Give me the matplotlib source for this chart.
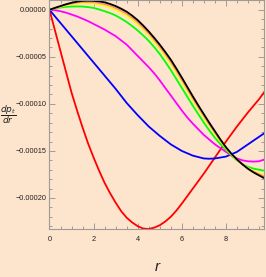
import numpy as np
import matplotlib
matplotlib.use("Agg")
import matplotlib.pyplot as plt
from matplotlib.ticker import MultipleLocator, FuncFormatter

# radius samples
r = [0, 0.25, 0.5, 0.75, 1.0, 1.25, 1.5, 1.75, 2.0, 2.25, 2.5, 2.75,
     3.0, 3.25, 3.5, 3.75, 4.0, 4.25, 4.5, 4.75, 5.0, 5.25, 5.5, 5.75,
     6.0, 6.25, 6.5, 6.75, 7.0, 7.25, 7.5, 7.75, 8.0, 8.25, 8.5, 8.75,
     9.0, 9.25, 9.5, 9.75]

# dp_t/dr values, in units of 1e-6
red = [0, -22, -44, -66, -88, -107, -125, -142, -157, -171, -184, -195,
       -205, -214, -221, -226, -230, -232.5, -233, -231.5, -229, -225, -220, -213.5,
       -206, -198, -190, -182, -174, -165.5, -157, -148.5, -140, -132, -124, -116.5,
       -109, -102, -95, -87]
blue = [0, -7, -14, -21, -28, -35, -42, -49, -56, -63, -70, -77,
        -84, -91.5, -99, -105.5, -112, -118, -124, -129, -134, -138.5, -143, -146.5,
        -150, -152.5, -155, -156.5, -158, -158.3, -158, -157, -156, -153.5, -151, -147,
        -143, -139, -135, -131]
magenta = [0, -0.4, -1.5, -3, -5, -7, -9.5, -12, -15, -18, -21, -24.5,
           -28, -32.5, -37, -43, -49, -55, -61, -67.5, -75, -83, -91, -99,
           -107, -114.5, -121, -127, -133, -138, -143, -147, -151, -155, -158, -160,
           -161, -161.3, -161, -159]
green = [0, 1.4, 2.5, 3.2, 3.5, 3.6, 3.5, 2.9, 2, 0.4, -1.5, -3.5,
         -6, -9.3, -13, -17.3, -22, -27.3, -33, -39.7, -47, -55.3, -64, -73.5,
         -83, -92.5, -102, -111, -120, -128.3, -136, -142.8, -149, -154.8, -160, -164,
         -167, -168.8, -170, -171]
yellow = [0, 1.8, 3.4, 4.8, 5.9, 6.7, 7.1, 7.0, 6.5, 5.6, 4.2, 2.3,
          0, -3.0, -6.4, -10.6, -15.4, -20.9, -27, -33.8, -41, -49, -57.4, -66.8,
          -76.4, -86.2, -96, -105.4, -114.6, -123.4, -131.8, -139.8, -147.2, -153.7, -159.4, -164.2,
          -168.2, -171.2, -173.6, -175.8]
pink = [0, 2.0, 3.7, 5.4, 6.7, 7.7, 8.3, 8.3, 8.0, 7.3, 6.1, 4.3,
        2, -0.9, -4.2, -8.4, -13.2, -18.8, -25, -31.8, -39, -46.9, -55.2, -64.5,
        -74.2, -84.1, -94, -103.6, -112.8, -121.8, -130.4, -138.8, -146.6, -153.4, -159.2, -164.2,
        -168.6, -172, -174.8, -177.4]
black = [0, 2.1, 4, 5.9, 7.5, 8.7, 9.5, 9.7, 9.5, 9, 8, 6.2,
         4, 1.2, -2, -6.2, -11, -16.7, -23, -29.8, -37, -44.8, -53, -62.3,
         -72, -82, -92, -101.7, -111, -120.2, -129, -137.8, -146, -153, -159, -164.3,
         -169, -172.8, -176, -179]

series = [(red, "#ff0000"), (blue, "#0000ff"), (magenta, "#ff00ff"),
          (green, "#00ff00"), (yellow, "#ffff00"), (pink, "#ff9080"),
          (black, "#000000")]

bg = "#fde4cd"
frame = "#a09a94"

fig = plt.figure(figsize=(2.66, 2.77), dpi=100, facecolor=bg)
ax = fig.add_axes([0.186, 0.1715, 0.806, 0.827])
ax.set_facecolor(bg)

for vals, c in series:
    ax.plot(r, np.array(vals) * 1e-6, color=c, lw=1.3,
            solid_joinstyle="round")

ax.set_xlim(0, 9.72)
ax.set_ylim(-2.335e-4, 1.0e-5)

ax.xaxis.set_major_locator(MultipleLocator(2))
ax.xaxis.set_minor_locator(MultipleLocator(0.5))
ax.yaxis.set_major_locator(MultipleLocator(5e-5))
ax.yaxis.set_minor_locator(MultipleLocator(1e-5))


def yfmt(v, pos):
    if abs(v) < 1e-9:
        return "0.00000"
    return f"{v:.5f}".replace("-", "\u2212")


ax.yaxis.set_major_formatter(FuncFormatter(yfmt))

fam = ["Liberation Sans Narrow", "Liberation Sans", "DejaVu Sans"]
ax.tick_params(which="both", direction="in", top=True, right=True,
               color=frame, labelcolor="#222222", labelsize=5.3, width=0.7)
ax.tick_params(which="major", length=4)
ax.tick_params(which="minor", length=2)
ax.tick_params(axis="x", pad=5)
ax.tick_params(axis="y", pad=2)
for lab in ax.get_xticklabels() + ax.get_yticklabels():
    lab.set_family(fam)
for s in ax.spines.values():
    s.set_color(frame)
    s.set_linewidth(0.8)

fig.text(0.03, 0.585, r"$\dfrac{dp_t}{dr}$", ha="center", va="center",
         fontsize=6.5, color="#222222")
fig.text(0.59, 0.036, "r", ha="center", va="center", fontsize=11,
         style="italic", family=fam, color="#222222")

fig.savefig("out.png", dpi=100, facecolor=bg)
